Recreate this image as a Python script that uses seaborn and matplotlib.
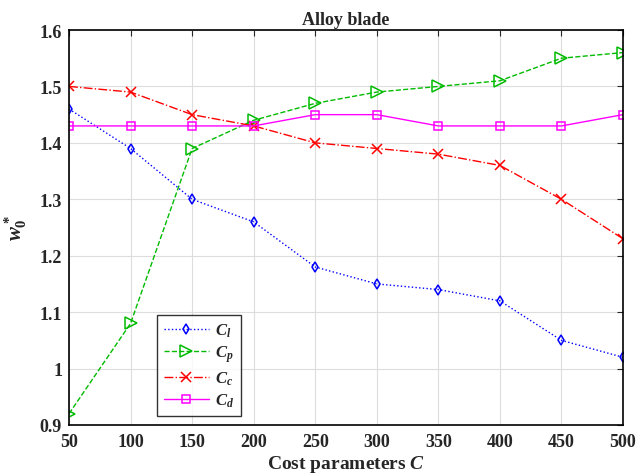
import matplotlib
matplotlib.use("Agg")
import matplotlib.pyplot as plt
import seaborn as sns
import pandas as pd

cost = [50, 100, 150, 200, 250, 300, 350, 400, 450, 500]
c_l = [1.46, 1.39, 1.30, 1.26, 1.18, 1.15, 1.14, 1.12, 1.05, 1.02]
c_p = [0.92, 1.08, 1.39, 1.44, 1.47, 1.49, 1.50, 1.51, 1.55, 1.56]
c_c = [1.50, 1.49, 1.45, 1.43, 1.40, 1.39, 1.38, 1.36, 1.30, 1.23]
c_d = [1.43, 1.43, 1.43, 1.43, 1.45, 1.45, 1.43, 1.43, 1.43, 1.45]
xticks = [50, 100, 150, 200, 250, 300, 350, 400, 450, 500]
yticks = [0.9, 1.0, 1.1, 1.2, 1.3, 1.4, 1.5, 1.6]
ytick_labels = ["0.9", "1", "1.1", "1.2", "1.3", "1.4", "1.5", "1.6"]

sns.set_style("white")
plt.rcParams['font.family'] = ['Liberation Serif', 'DejaVu Serif']
plt.rcParams['mathtext.fontset'] = 'custom'
plt.rcParams['mathtext.it'] = 'Liberation Serif:italic:bold'
plt.rcParams['mathtext.rm'] = 'Liberation Serif:bold'
plt.rcParams['mathtext.bf'] = 'Liberation Serif:bold'

fig = plt.figure(figsize=(6.36, 4.77), dpi=100)
ax = fig.add_axes([69/636, 1 - 426/477, (623-69)/636, (426-31)/477])

series = [
    (c_l, r"$C_l$", "#0000ff", ":", "d", 5),
    (c_p, r"$C_p$", "#00bb00", "--", ">", 8),
    (c_c, r"$C_c$", "#ff0000", "-.", "x", 7),
    (c_d, r"$C_d$", "#ff00ff", "-", "s", 6),
]
for vals, lab, col, ls, mk, ms in series:
    df = pd.DataFrame({"x": cost, "y": vals})
    sns.lineplot(data=df, x="x", y="y", ax=ax, color=col, linestyle=ls,
                 marker=mk, markersize=ms, markerfacecolor="none",
                 markeredgecolor=col, markeredgewidth=1.1, linewidth=1.0, label=lab)

ax.set_xlim(50, 500)
ax.set_ylim(0.9, 1.6)
ax.set_xticks(xticks)
ax.set_yticks(yticks)
ax.set_yticklabels(ytick_labels)
for lab in ax.get_xticklabels() + ax.get_yticklabels():
    lab.set_fontweight("bold")
ax.tick_params(direction="in", labelsize=13, top=True, right=True, length=4, width=0.8, pad=5)
ax.tick_params(axis="x", pad=6)
ax.grid(True, color="#dddddd", linewidth=0.8)
for s in ax.spines.values():
    s.set_color("black")
    s.set_linewidth(1.2)

ax.set_title("Alloy blade", fontsize=13, fontweight="bold", pad=4)
ax.set_xlabel(r"Cost parameters $C$", fontsize=14, fontweight="bold", labelpad=2)
ax.set_ylabel(r"$w_0^*$", fontsize=15, fontweight="bold", labelpad=8)

leg = ax.legend(loc="lower left", bbox_to_anchor=(0.159, 0.023), fontsize=12,
                frameon=True, fancybox=False, edgecolor="black", handlelength=2.7,
                borderpad=0.4, labelspacing=0.3, handletextpad=0.4, borderaxespad=0)
leg.get_frame().set_linewidth(1.0)

fig.savefig("out.png", dpi=100)
